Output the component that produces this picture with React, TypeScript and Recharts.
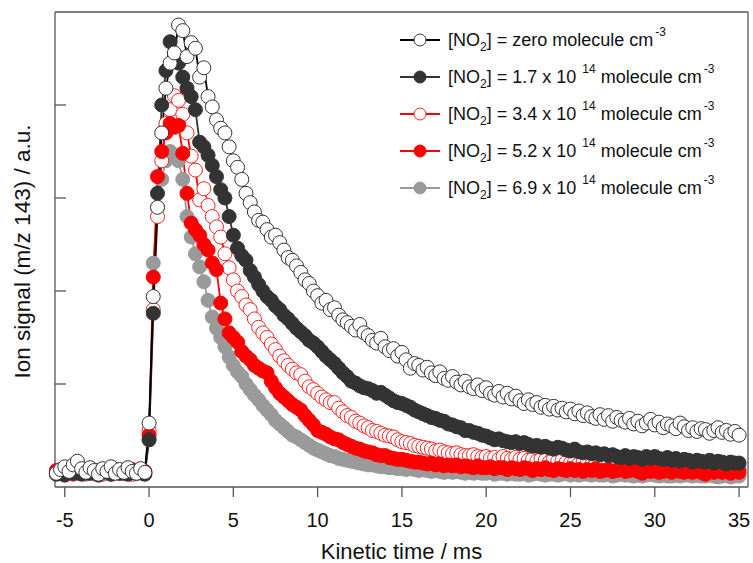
import { Legend, Line, LineChart, XAxis, YAxis } from "recharts";

// kinetic time, ms
const time = [
  -5.5, -5.25, -5, -4.75, -4.5, -4.25, -4, -3.75, -3.5, -3.25, -3, -2.75, -2.5, -2.25, -2, -1.75, -1.5, -1.25, -1, -0.75, -0.5, -0.25,
  0, 0.25, 0.5, 0.75, 1, 1.25, 1.5, 1.75,
  2, 2.25, 2.5, 2.75, 3, 3.25, 3.5, 3.75,
  4, 4.25, 4.5, 4.75, 5, 5.25, 5.5, 5.75,
  6, 6.25, 6.5, 6.75, 7, 7.25, 7.5, 7.75,
  8, 8.25, 8.5, 8.75, 9, 9.25, 9.5, 9.75,
  10, 10.25, 10.5, 10.75, 11, 11.25, 11.5, 11.75,
  12, 12.25, 12.5, 12.75, 13, 13.25, 13.5, 13.75,
  14, 14.25, 14.5, 14.75, 15, 15.25, 15.5, 15.75,
  16, 16.25, 16.5, 16.75, 17, 17.25, 17.5, 17.75,
  18, 18.25, 18.5, 18.75, 19, 19.25, 19.5, 19.75,
  20, 20.25, 20.5, 20.75, 21, 21.25, 21.5, 21.75,
  22, 22.25, 22.5, 22.75, 23, 23.25, 23.5, 23.75,
  24, 24.25, 24.5, 24.75, 25, 25.25, 25.5, 25.75,
  26, 26.25, 26.5, 26.75, 27, 27.25, 27.5, 27.75,
  28, 28.25, 28.5, 28.75, 29, 29.25, 29.5, 29.75,
  30, 30.25, 30.5, 30.75, 31, 31.25, 31.5, 31.75,
  32, 32.25, 32.5, 32.75, 33, 33.25, 33.5, 33.75,
  34, 34.25, 34.5, 34.75, 35,
];

// ion signal, a.u.
const no2Zero = [
  0.04, 0.08, 0.11, 0.06, 0.13, 0.17, 0.09, 0.05, 0.1, 0.07, 0.03, 0.09, 0.06, 0.11, 0.04, 0.08, 0.05, 0.1, 0.06, 0.04, 0.09, 0.05,
  0.58, 1.94, 2.9, 3.7, 4.18, 4.45, 4.56, 4.86,
  4.8, 4.52, 4.67, 4.61, 4.3, 4.4, 4.09, 3.98,
  3.84, 3.75, 3.7, 3.55, 3.4, 3.33, 3.2, 3.05,
  2.95, 2.85, 2.76, 2.74, 2.66, 2.58, 2.6, 2.52,
  2.44, 2.36, 2.33, 2.27, 2.2, 2.12, 2.08, 2.0,
  1.95, 1.87, 1.9, 1.8, 1.82, 1.74, 1.69, 1.66,
  1.62, 1.58, 1.64, 1.55, 1.52, 1.47, 1.44, 1.49,
  1.4, 1.36, 1.38, 1.3, 1.34, 1.26, 1.17, 1.22,
  1.2, 1.15, 1.18, 1.12, 1.09, 1.13, 1.06, 1.04,
  1.08, 1.02, 0.99, 1.03, 0.97, 0.95, 0.99, 0.93,
  0.96, 0.9, 0.88, 0.92, 0.86, 0.9, 0.84, 0.87,
  0.82, 0.79, 0.83, 0.78, 0.8, 0.75, 0.77, 0.73,
  0.76, 0.72, 0.74, 0.7, 0.73, 0.68, 0.71, 0.66,
  0.69, 0.65, 0.63, 0.67, 0.62, 0.66, 0.6, 0.64,
  0.61, 0.59, 0.63, 0.57, 0.6, 0.55, 0.58, 0.62,
  0.56, 0.59, 0.53, 0.57, 0.55, 0.52, 0.58, 0.54,
  0.5, 0.53, 0.49, 0.52, 0.51, 0.47, 0.5, 0.53,
  0.48, 0.5, 0.46, 0.49, 0.45,
];

const no2_17 = [
  0.03, 0.05, 0.02, 0.06, 0.04, 0.07, 0.03, 0.05, 0.04, 0.06, 0.02, 0.05, 0.07, 0.03, 0.05, 0.04, 0.06, 0.03, 0.05, 0.04, 0.06, 0.03,
  0.4, 1.76, 3.05, 4.0, 4.37, 4.68, 4.55, 4.45,
  4.3, 4.18, 4.09, 3.95, 3.6, 3.55, 3.46, 3.35,
  3.23, 3.09, 3.0, 2.8, 2.6, 2.46, 2.38, 2.33,
  2.22, 2.15, 2.07, 2.0, 1.94, 1.9, 1.84, 1.8,
  1.74, 1.7, 1.65, 1.6, 1.56, 1.52, 1.47, 1.44,
  1.4, 1.35, 1.3, 1.26, 1.22, 1.17, 1.12, 1.08,
  1.03, 1.01, 0.98, 0.96, 0.95, 0.93, 0.9, 0.91,
  0.88, 0.85, 0.82, 0.8, 0.79, 0.77, 0.75, 0.72,
  0.7, 0.68, 0.66, 0.64, 0.63, 0.61, 0.6, 0.57,
  0.56, 0.54, 0.53, 0.5, 0.5, 0.48, 0.47, 0.45,
  0.44, 0.42, 0.4, 0.41, 0.39, 0.38, 0.37, 0.38,
  0.36, 0.37, 0.35, 0.33, 0.34, 0.32, 0.33, 0.31,
  0.3, 0.32, 0.31, 0.29, 0.28, 0.3, 0.27, 0.26,
  0.27, 0.25, 0.26, 0.24, 0.25, 0.23, 0.24, 0.22,
  0.21, 0.23, 0.2, 0.22, 0.21, 0.19, 0.22, 0.2,
  0.22, 0.2, 0.19, 0.21, 0.18, 0.2, 0.17, 0.19,
  0.18, 0.16, 0.18, 0.17, 0.16, 0.18, 0.15, 0.17,
  0.16, 0.14, 0.16, 0.15, 0.15,
];

const no2_34 = [
  0.06, 0.04, 0.07, 0.05, 0.03, 0.06, 0.08, 0.04, 0.06, 0.05, 0.07, 0.03, 0.06, 0.05, 0.08, 0.04, 0.06, 0.05, 0.03, 0.07, 0.05, 0.04,
  0.5, 1.8, 2.8, 3.4, 3.8, 3.95, 4.1, 4.05,
  3.9, 3.7, 3.45, 3.3, 2.98, 3.1, 2.92, 2.8,
  2.69, 2.58, 2.4, 2.25, 2.12, 2.0, 1.94, 1.85,
  1.8, 1.7, 1.61, 1.55, 1.5, 1.43, 1.37, 1.3,
  1.25, 1.2, 1.16, 1.12, 1.1, 1.03, 0.97, 0.94,
  0.9, 0.86, 0.83, 0.8, 0.8, 0.74, 0.7, 0.66,
  0.64, 0.6, 0.58, 0.55, 0.53, 0.5, 0.49, 0.47,
  0.45, 0.44, 0.43, 0.4, 0.38, 0.37, 0.36, 0.34,
  0.33, 0.32, 0.31, 0.3, 0.28, 0.29, 0.27, 0.26,
  0.25, 0.26, 0.24, 0.23, 0.23, 0.24, 0.22, 0.21,
  0.22, 0.2, 0.21, 0.19, 0.22, 0.2, 0.19, 0.21,
  0.19, 0.2, 0.18, 0.19, 0.17, 0.19, 0.18, 0.16,
  0.2, 0.17, 0.18, 0.16, 0.15, 0.17, 0.14, 0.16,
  0.15, 0.13, 0.15, 0.14, 0.12, 0.14, 0.13, 0.12,
  0.13, 0.11, 0.12, 0.13, 0.11, 0.12, 0.1, 0.12,
  0.11, 0.1, 0.12, 0.1, 0.09, 0.11, 0.1, 0.09,
  0.1, 0.08, 0.1, 0.09, 0.08, 0.1, 0.09, 0.08,
  0.09, 0.07, 0.09, 0.08, 0.08,
];

const no2_52 = [
  0.07, 0.05, 0.08, 0.06, 0.04, 0.07, 0.05, 0.08, 0.06, 0.04, 0.07, 0.06, 0.05, 0.08, 0.06, 0.07, 0.04, 0.06, 0.08, 0.05, 0.07, 0.06,
  0.45, 2.15, 3.23, 3.5, 3.7, 3.8, 3.76, 3.78,
  3.48, 3.05, 2.73, 2.66, 2.6, 2.5, 2.44, 2.3,
  2.23, 1.87, 1.7, 1.55, 1.5, 1.45, 1.35, 1.3,
  1.26, 1.2, 1.17, 1.14, 1.12, 1.03, 0.96, 0.9,
  0.86, 0.82, 0.78, 0.75, 0.72, 0.66, 0.61, 0.56,
  0.5, 0.48, 0.46, 0.43, 0.41, 0.4, 0.37, 0.35,
  0.33, 0.31, 0.3, 0.28, 0.27, 0.26, 0.24, 0.23,
  0.23, 0.21, 0.2, 0.19, 0.19, 0.18, 0.17, 0.16,
  0.16, 0.15, 0.14, 0.15, 0.13, 0.14, 0.12, 0.13,
  0.12, 0.13, 0.11, 0.12, 0.11, 0.1, 0.12, 0.1,
  0.1, 0.11, 0.09, 0.1, 0.1, 0.08, 0.1, 0.09,
  0.08, 0.1, 0.09, 0.07, 0.09, 0.08, 0.1, 0.08,
  0.07, 0.09, 0.08, 0.07, 0.09, 0.07, 0.08, 0.06,
  0.08, 0.07, 0.09, 0.06, 0.07, 0.08, 0.06, 0.07,
  0.08, 0.06, 0.07, 0.08, 0.06, 0.04, 0.07, 0.06,
  0.07, 0.05, 0.06, 0.07, 0.05, 0.07, 0.06, 0.05,
  0.06, 0.05, 0.07, 0.05, 0.03, 0.06, 0.05, 0.07,
  0.05, 0.06, 0.04, 0.06, 0.05,
];

const no2_69 = [
  0.04, 0.06, 0.03, 0.05, 0.07, 0.04, 0.05, 0.03, 0.06, 0.04, 0.05, 0.07, 0.04, 0.03, 0.05, 0.06, 0.04, 0.05, 0.03, 0.06, 0.04, 0.05,
  0.4, 2.3, 2.9, 3.2, 3.4, 3.5, 3.46, 3.4,
  3.2, 2.8, 2.58, 2.4, 2.26, 2.1, 1.9, 1.72,
  1.6, 1.5, 1.4, 1.29, 1.2, 1.13, 1.08, 1.0,
  0.94, 0.88, 0.83, 0.77, 0.72, 0.67, 0.61, 0.57,
  0.53, 0.49, 0.45, 0.43, 0.4, 0.37, 0.34, 0.31,
  0.29, 0.27, 0.25, 0.23, 0.22, 0.2, 0.19, 0.18,
  0.17, 0.16, 0.15, 0.14, 0.13, 0.13, 0.12, 0.11,
  0.11, 0.1, 0.1, 0.09, 0.09, 0.08, 0.09, 0.08,
  0.07, 0.08, 0.07, 0.06, 0.07, 0.06, 0.05, 0.06,
  0.05, 0.06, 0.05, 0.04, 0.05, 0.04, 0.05, 0.04,
  0.04, 0.05, 0.03, 0.04, 0.04, 0.03, 0.04, 0.03,
  0.03, 0.04, 0.02, 0.03, 0.04, 0.03, 0.02, 0.03,
  0.03, 0.02, 0.03, 0.04, 0.02, 0.03, 0.02, 0.03,
  0.03, 0.02, 0.03, 0.02, 0.02, 0.03, 0.01, 0.02,
  0.03, 0.02, 0.02, 0.01, 0.02, 0.01, 0.02, 0.03,
  0.02, 0.01, 0.02, 0.01, 0.01, 0.02, 0.01, 0.02,
  0.02, 0.01, 0.02, 0.01, 0.01, 0.02, 0.01, 0,
  0.01, 0.02, 0, 0.01, 0.01,
];

const xTicks = [-5, 0, 5, 10, 15, 20, 25, 30, 35];
const yTicks = [1, 2, 3, 4];

const FONT = "Arial, 'Liberation Sans', Helvetica, sans-serif";
const AXIS = "#555";

// drawing order: first is at the bottom
const series = [
  { key: "c69", conc: "6.9", values: no2_69, line: "#9a9a9a", fill: "#9a9a9a", stroke: "#9a9a9a" },
  { key: "c34", conc: "3.4", values: no2_34, line: "#ff0000", fill: "#ffffff", stroke: "#ff2020" },
  { key: "c52", conc: "5.2", values: no2_52, line: "#ff0000", fill: "#ff0000", stroke: "#ff0000" },
  { key: "c17", conc: "1.7", values: no2_17, line: "#333333", fill: "#333333", stroke: "#333333" },
  { key: "c0", conc: null, values: no2Zero, line: "#000000", fill: "#ffffff", stroke: "#333333" },
];
const legendOrder = ["c0", "c17", "c34", "c52", "c69"];

const data = time.map((t, i) => {
  const row: Record<string, number> = { t };
  series.forEach((s) => (row[s.key] = s.values[i]));
  return row;
});

const subStyle = { fontSize: 12, position: "relative" as const, top: 5, verticalAlign: "baseline" };
const supStyle = { fontSize: 12, position: "relative" as const, top: -10, marginLeft: 6, verticalAlign: "baseline" };

const noTick = () => <g />;

function NO2Legend() {
  return (
    <div style={{ fontFamily: FONT, fontSize: 18, color: "#111" }}>
      {legendOrder.map((k) => {
        const s = series.find((x) => x.key === k)!;
        return (
          <div key={k} style={{ height: 37, display: "flex", alignItems: "center", whiteSpace: "nowrap" }}>
            <svg width={40} height={16} style={{ marginRight: 8 }}>
              <line x1={0} x2={40} y1={8} y2={8} stroke={s.line} strokeWidth={2} />
              <circle cx={20} cy={8} r={6} fill={s.fill} stroke={s.stroke} strokeWidth={1} />
            </svg>
            <span>
              [NO<span style={subStyle}>2</span>] ={" "}
              {s.conc ? (
                <>
                  {s.conc} x 10<span style={supStyle}>14</span>{"  "}
                </>
              ) : (
                "zero "
              )}
              molecule cm<span style={{ ...supStyle, marginLeft: 2 }}>-3</span>
            </span>
          </div>
        );
      })}
    </div>
  );
}

export default function App() {
  return (
    <div style={{ position: "absolute", left: 0, top: 0, background: "#fff" }}>
      <LineChart width={753} height={563} data={data} margin={{ top: 11, right: 5, left: 55, bottom: 4 }}>
        <XAxis
          dataKey="t"
          type="number"
          domain={[-5.58, 35.53]}
          ticks={xTicks}
          height={72}
          tickSize={10}
          tickMargin={16}
          stroke={AXIS}
          strokeWidth={1.3}
          tick={{ fill: "#111", fontSize: 20, fontFamily: FONT }}
          label={(p: any) => {
            const vb = p.viewBox;
            return (
              <text x={vb.x + vb.width / 2} y={559} textAnchor="middle" fontSize={22} fontFamily={FONT} fill="#111">
                Kinetic time / ms
              </text>
            );
          }}
        />
        <XAxis
          xAxisId="top"
          orientation="top"
          dataKey="t"
          type="number"
          domain={[-5.58, 35.53]}
          height={1}
          tick={false}
          tickLine={false}
          stroke={AXIS}
          strokeWidth={1.3}
        />
        <YAxis
          type="number"
          domain={[-0.1075, 5]}
          ticks={yTicks}
          width={1}
          mirror
          tick={noTick}
          tickSize={11}
          stroke={AXIS}
          strokeWidth={1.3}
          label={(p: any) => {
            const vb = p.viewBox;
            const cy = vb.y + vb.height / 2 + 2;
            return (
              <text x={30} y={cy} transform={`rotate(-90 30 ${cy})`} textAnchor="middle" fontSize={22.5} fontFamily={FONT} fill="#111">
                Ion signal (m/z 143) / a.u.
              </text>
            );
          }}
        />
        <YAxis
          yAxisId="right"
          orientation="right"
          type="number"
          domain={[-0.1075, 5]}
          ticks={yTicks}
          width={1}
          mirror
          tick={noTick}
          tickSize={11}
          stroke={AXIS}
          strokeWidth={1.3}
        />
        <Legend
          layout="horizontal"
          verticalAlign="middle"
          align="center"
          content={() => <NO2Legend />}
          wrapperStyle={{ left: 400, top: 21.5, width: 350, height: 185 }}
        />
        {series.map((s) => (
          <Line
            key={s.key}
            dataKey={s.key}
            type="linear"
            stroke={s.line}
            strokeWidth={1.8}
            dot={{ r: 7, fill: s.fill, stroke: s.stroke, strokeWidth: 1 }}
            activeDot={false}
            isAnimationActive={false}
          />
        ))}
      </LineChart>
    </div>
  );
}
